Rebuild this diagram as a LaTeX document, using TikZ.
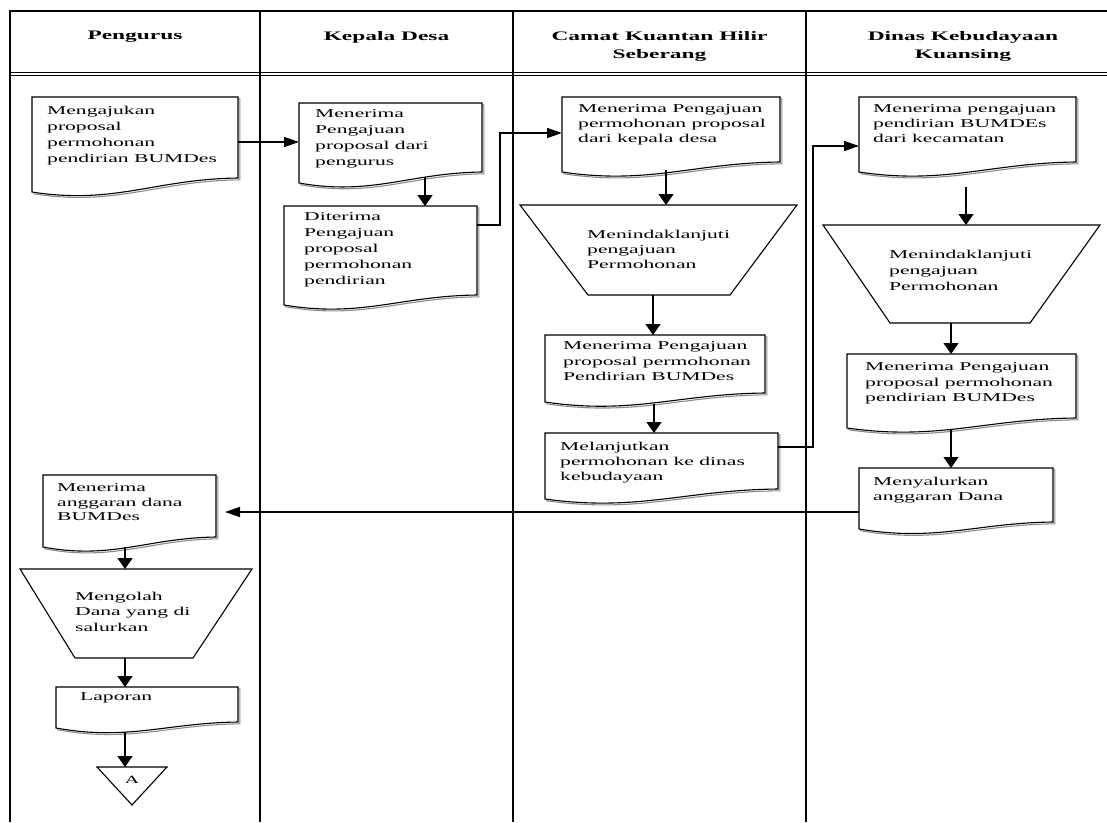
\documentclass[tikz,border=0pt]{standalone}
\usepackage{fontspec}
\setmainfont{Liberation Serif}[FakeStretch=1.8]
\usetikzlibrary{calc,arrows.meta}
\newcommand\docshape[2][10]{%
  \path[shadowline, transform canvas={shift={(1.8pt,-1.8pt)}}] (#2.north west) -- ([yshift=-#1pt]#2.south west) .. controls ($(#2.south west)!0.4!(#2.south east)+(0pt,{-#1pt-13pt})$) and ($(#2.south west)!0.6!(#2.south east)+(0pt,-1pt)$) .. (#2.south east) -- (#2.north east) -- cycle;
  \path[docline] (#2.north west) -- ([yshift=-#1pt]#2.south west) .. controls ($(#2.south west)!0.4!(#2.south east)+(0pt,{-#1pt-13pt})$) and ($(#2.south west)!0.6!(#2.south east)+(0pt,-1pt)$) .. (#2.south east) -- (#2.north east) -- cycle;
}
\newcommand\trapshape[3]{%
  \draw[trap] (#1.north west) -- (#1.north east) -- ([xshift=-#3pt]#1.south east) -- ([xshift=#2pt]#1.south west) -- cycle;
}
\begin{document}
\begin{tikzpicture}[x=1pt,y=-1pt,
  box/.style={anchor=north west, inner sep=0pt, outer sep=0pt, draw=none},
  txt/.style={anchor=north west, inner sep=0pt, align=left, font=\fontsize{12}{15}\selectfont},
  hd/.style={anchor=north, inner sep=0pt, align=center, font=\fontsize{13}{18}\selectfont\bfseries},
  docline/.style={draw=black, line width=1.1pt, fill=white},
  shadowline/.style={draw=black!45, line width=1.1pt},
  trap/.style={draw=black, line width=1.1pt, fill=white},
  vline/.style={line width=2.2pt},
  hline/.style={line width=1.3pt},
  conn/.style={line width=1.4pt},
  varr/.style={conn, -{Triangle[length=11pt,width=15pt]}},
  harr/.style={conn, -{Triangle[length=15pt,width=10pt]}},
]
\useasboundingbox (0,0) rectangle (1107,822);
\fill[white] (0,0) rectangle (1107,822);

% table
\draw[hline] (9,11) -- (1107,11);
\draw[line width=1.1pt] (9,72.5) -- (1107,72.5);
\draw[line width=1.1pt] (9,75.8) -- (1107,75.8);
\foreach \x in {10,260,513,806} \draw[vline] (\x,10) -- (\x,822);

% headers
\node[hd] (h1) at (135,31) {Pengurus};
\node[hd] (h2) at (386.5,31) {Kepala Desa};
\node[hd] (h3) at (659.5,31) {Camat Kuantan Hilir\\Seberang};
\node[hd] (h4) at (963,31) {Dinas Kebudayaan\\Kuansing};

% shape nodes
\node[box, minimum width=206pt, minimum height=81pt] (n1) at (32,97) {};
\node[box, minimum width=183pt, minimum height=69pt] (k1) at (299,103) {};
\node[box, minimum width=193pt, minimum height=89pt] (k2) at (284,206) {};
\node[box, minimum width=218pt, minimum height=65pt] (c1) at (562,97) {};
\node[box, minimum width=277pt, minimum height=90pt] (c2) at (520,205) {};
\node[box, minimum width=220pt, minimum height=58pt] (c3) at (545,335) {};
\node[box, minimum width=233pt, minimum height=56pt] (c4) at (545,433) {};
\node[box, minimum width=217pt, minimum height=65pt] (d1) at (859,97) {};
\node[box, minimum width=277pt, minimum height=98pt] (d2) at (823,225) {};
\node[box, minimum width=229pt, minimum height=64pt] (d3) at (847,354) {};
\node[box, minimum width=194pt, minimum height=54pt] (d4) at (859,468) {};
\node[box, minimum width=173pt, minimum height=62pt] (n2) at (43,475) {};
\node[box, minimum width=232pt, minimum height=89pt] (n3) at (20,569) {};
\node[box, minimum width=182pt, minimum height=35pt] (n4) at (56,687) {};
\node[box, minimum width=70pt, minimum height=38pt] (n5) at (97,767) {};

% outlines
\docshape[14]{n1}
\docshape[11]{k1}
\docshape[10]{k2}
\docshape{c1}
\trapshape{c2}{68}{67}
\docshape[9]{c3}
\docshape{c4}
\docshape{d1}
\trapshape{d2}{67}{70}
\docshape{d3}
\docshape[7]{d4}
\docshape{n2}
\trapshape{n3}{55}{59}
\docshape[6]{n4}
\draw[trap] (n5.north west) -- (n5.north east) -- (n5.south) -- cycle;

% texts
\node[txt, font=\fontsize{12}{16}\selectfont] (n1t) at (47,105.8) {Mengajukan\\proposal\\permohonan\\pendirian BUMDes};
\node[txt, font=\fontsize{12}{15.7}\selectfont] (k1t) at (315,109.8) {Menerima\\Pengajuan\\proposal dari\\pengurus};
\node[txt, font=\fontsize{12}{15.8}\selectfont] (k2t) at (304,212.8) {Diterima\\Pengajuan\\proposal\\permohonan\\pendirian};
\node[txt] (c1t) at (578,104.8) {Menerima Pengajuan\\permohonan proposal\\dari kepala desa};
\node[txt] (c2t) at (587,229.8) {Menindaklanjuti\\pengajuan\\Permohonan};
\node[txt, font=\fontsize{12}{15.5}\selectfont] (c3t) at (563,341.8) {Menerima Pengajuan\\proposal permohonan\\Pendirian BUMDes};
\node[txt] (c4t) at (560,441.8) {Melanjutkan\\permohonan ke dinas\\kebudayaan};
\node[txt] (d1t) at (873,104.8) {Menerima pengajuan\\pendirian BUMDEs\\dari kecamatan};
\node[txt, font=\fontsize{12}{16}\selectfont] (d2t) at (889,249.8) {Menindaklanjuti\\pengajuan\\Permohonan};
\node[txt, font=\fontsize{12}{15.5}\selectfont] (d3t) at (865,362.8) {Menerima Pengajuan\\proposal permohonan\\pendirian BUMDes};
\node[txt] (d4t) at (873,476.8) {Menyalurkan\\anggaran Dana};
\node[txt, font=\fontsize{12}{14.5}\selectfont] (n2t) at (57,483.8) {Menerima\\anggaran dana\\BUMDes};
\node[txt, font=\fontsize{12}{15.5}\selectfont] (n3t) at (75,591.8) {Mengolah\\Dana yang di\\salurkan};
\node[txt] (n4t) at (80,692.8) {Laporan};
\node[inner sep=0pt, font=\fontsize{11}{13}\selectfont] (n5t) at (132,780) {A};

% connector helper points
\coordinate (n1o) at ([yshift=-4.5pt]n1.east);
\coordinate (k1o) at ([shift={(34.5pt,-5pt)}]k1.south);
\coordinate (k2o) at ([yshift=25.5pt]k2.east);
\coordinate (c1i) at ([yshift=-3.5pt]c1.west);
\coordinate (c1o) at ([shift={(-5pt,-8pt)}]c1.south);
\coordinate (c2o) at ([xshift=-5.5pt]c2.south);
\coordinate (c3o) at ([shift={(-1pt,-11pt)}]c3.south);
\coordinate (c4o) at ([yshift=14pt]c4.east);
\coordinate (d1i) at ([yshift=-16.5pt]d1.west);
\coordinate (d1o) at ([shift={(-1.5pt,-25pt)}]d1.south);
\coordinate (d2o) at ([xshift=-10.5pt]d2.south);
\coordinate (d3o) at ([shift={(-10.5pt,-12pt)}]d3.south);
\coordinate (d4o) at ([yshift=-17pt]d4.west);
\coordinate (n2i) at ([shift={(9pt,-6pt)}]n2.east);
\coordinate (n2o) at ([shift={(-4.5pt,-10pt)}]n2.south);
\coordinate (n3o) at ([xshift=-11pt]n3.south);
\coordinate (n4o) at ([shift={(-22pt,-10pt)}]n4.south);

% connectors
\draw[harr] (n1o) -- (n1o -| k1.west);
\draw[varr] (k1o) -- (k1o |- k2.north);
\draw[harr] (k2o) -- ++(23pt,0pt) |- (c1i);
\draw[varr] (c1o) -- (c1o |- c2.north);
\draw[varr] (c2o) -- (c2o |- c3.north);
\draw[varr] (c3o) -- (c3o |- c4.north);
\draw[harr] (c4o) -- ++(35pt,0pt) |- (d1i);
\draw[varr] (d1o) -- (d1o |- d2.north);
\draw[varr] (d2o) -- (d2o |- d3.north);
\draw[varr] (d3o) -- (d3o |- d4.north);
\draw[harr] (d4o) -- (d4o -| n2i);
\draw[varr] (n2o) -- (n2o |- n3.north);
\draw[varr] (n3o) -- (n3o |- n4.north);
\draw[varr] (n4o) -- (n4o |- n5.north);
\end{tikzpicture}
\end{document}
